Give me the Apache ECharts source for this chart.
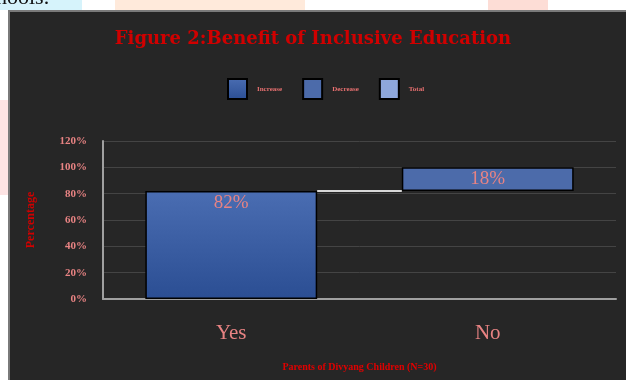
<!DOCTYPE html>
<html><head><meta charset="utf-8">
<script src="https://cdn.jsdelivr.net/npm/echarts@6/dist/echarts.min.js"></script>
<style>html,body{margin:0;padding:0;background:#fff;}#c{width:626px;height:380px;}</style>
</head><body><div id="c"></div>
<script>
const categories = ['Yes', 'No'];
const baseValues = [0, 82];
const increaseValues = [82, '-'];
const decreaseValues = ['-', 18];
const totalValues = ['-', '-'];
const labelsText = ['82%', '18%'];
const yTicks = [0, 20, 40, 60, 80, 100, 120];

const chart = echarts.init(document.getElementById('c'));
const pink = '#E88383';
const serif = '"Liberation Serif", "DejaVu Serif", serif';

chart.setOption({
  backgroundColor: '#ffffff',
  animation: false,
  graphic: [
    { type: 'rect', shape: { x: 0, y: 0, width: 82, height: 10 }, style: { fill: '#D6F3FB' }, z: -20 },
    { type: 'rect', shape: { x: 115, y: 0, width: 190, height: 10 }, style: { fill: '#FFEADB' }, z: -20 },
    { type: 'rect', shape: { x: 488, y: 0, width: 60, height: 10 }, style: { fill: '#FDDDD6' }, z: -20 },
    { type: 'rect', shape: { x: 0, y: 100, width: 8, height: 95 }, style: { fill: '#FDE3E3' }, z: -20 },
    { type: 'text', left: -4, top: -13, style: { text: 'hools.', font: '22px "Liberation Serif", serif', fill: '#111' }, z: -19 },
    { type: 'rect', shape: { x: 9, y: 11, width: 640, height: 400 }, style: { fill: '#262626', stroke: '#7a7a7a', lineWidth: 2 }, z: -18 }
  ],
  title: {
    text: 'Figure 2:Benefit of Inclusive Education',
    left: 'center', top: 25,
    textStyle: { color: '#D00000', fontSize: 18, fontWeight: 'bold', fontFamily: '"DejaVu Serif", serif' }
  },
  legend: {
    data: ['Increase', 'Decrease', 'Total'],
    top: 73, left: 222,
    itemWidth: 19, itemHeight: 20, itemGap: 20,
    icon: 'rect',
    textStyle: { color: '#E87070', fontSize: 7, fontFamily: serif, fontWeight: 'bold', padding: [0, 0, 0, 5] }
  },
  grid: { left: 103, right: 10, top: 141, bottom: 81 },
  xAxis: {
    type: 'category', data: categories,
    name: 'Parents of Divyang Children (N=30)', nameLocation: 'middle', nameGap: 63,
    nameTextStyle: { color: '#E00000', fontSize: 10, fontWeight: 'bold', fontFamily: serif },
    axisLine: { lineStyle: { color: '#a0a0a0', width: 2 } },
    axisTick: { show: false },
    axisLabel: { color: pink, fontSize: 21, fontFamily: serif, margin: 24 }
  },
  yAxis: {
    type: 'value', min: yTicks[0], max: yTicks[yTicks.length - 1], interval: 20,
    name: 'Percentage', nameLocation: 'middle', nameGap: 66, nameRotate: 90,
    nameTextStyle: { color: '#D00000', fontSize: 12, fontWeight: 'bold', fontFamily: serif },
    axisLine: { show: true, lineStyle: { color: '#a0a0a0', width: 2 } },
    axisTick: { show: false },
    splitLine: { lineStyle: { color: '#444444', width: 1 } },
    axisLabel: { color: pink, fontSize: 11, fontWeight: 'bold', fontFamily: serif, margin: 16, formatter: '{value}%' }
  },
  series: [
    { name: 'base', type: 'bar', stack: 'w', data: baseValues, barWidth: '67%', itemStyle: { color: 'transparent' }, silent: true },
    { name: 'Increase', type: 'bar', stack: 'w', data: increaseValues, barWidth: '67%',
      itemStyle: { color: new echarts.graphic.LinearGradient(0, 0, 0, 1, [{ offset: 0, color: '#4A6DB2' }, { offset: 1, color: '#2B4E93' }]), borderColor: '#000', borderWidth: 1.5 },
      label: { show: true, position: 'insideTop', distance: 2, color: pink, fontSize: 19, fontFamily: serif, formatter: (p) => labelsText[p.dataIndex] } },
    { name: 'Decrease', type: 'bar', stack: 'w', data: decreaseValues, barWidth: '67%',
      itemStyle: { color: '#4C6BAA', borderColor: '#000', borderWidth: 1.5 },
      label: { show: true, position: 'inside', color: pink, fontSize: 19, fontFamily: serif, formatter: (p) => labelsText[p.dataIndex] } },
    { name: 'Total', type: 'bar', stack: 'w', data: totalValues, barWidth: '67%',
      itemStyle: { color: '#8EA7DB', borderColor: '#000', borderWidth: 1.5 } },
    { name: 'connector', type: 'custom', data: [[0, 82]], z: 5,
      renderItem: function (params, api) {
        const idx = api.value(0);
        const v = api.value(1);
        const p1 = api.coord([idx, v]);
        const p2 = api.coord([idx + 1, v]);
        const bw = api.size([1, 0])[0] * 0.67 / 2;
        return { type: 'line', shape: { x1: p1[0] + bw, y1: p1[1], x2: p2[0] - bw, y2: p2[1] }, style: { stroke: '#d8d8d8', lineWidth: 2 } };
      } }
  ]
});
</script></body></html>
